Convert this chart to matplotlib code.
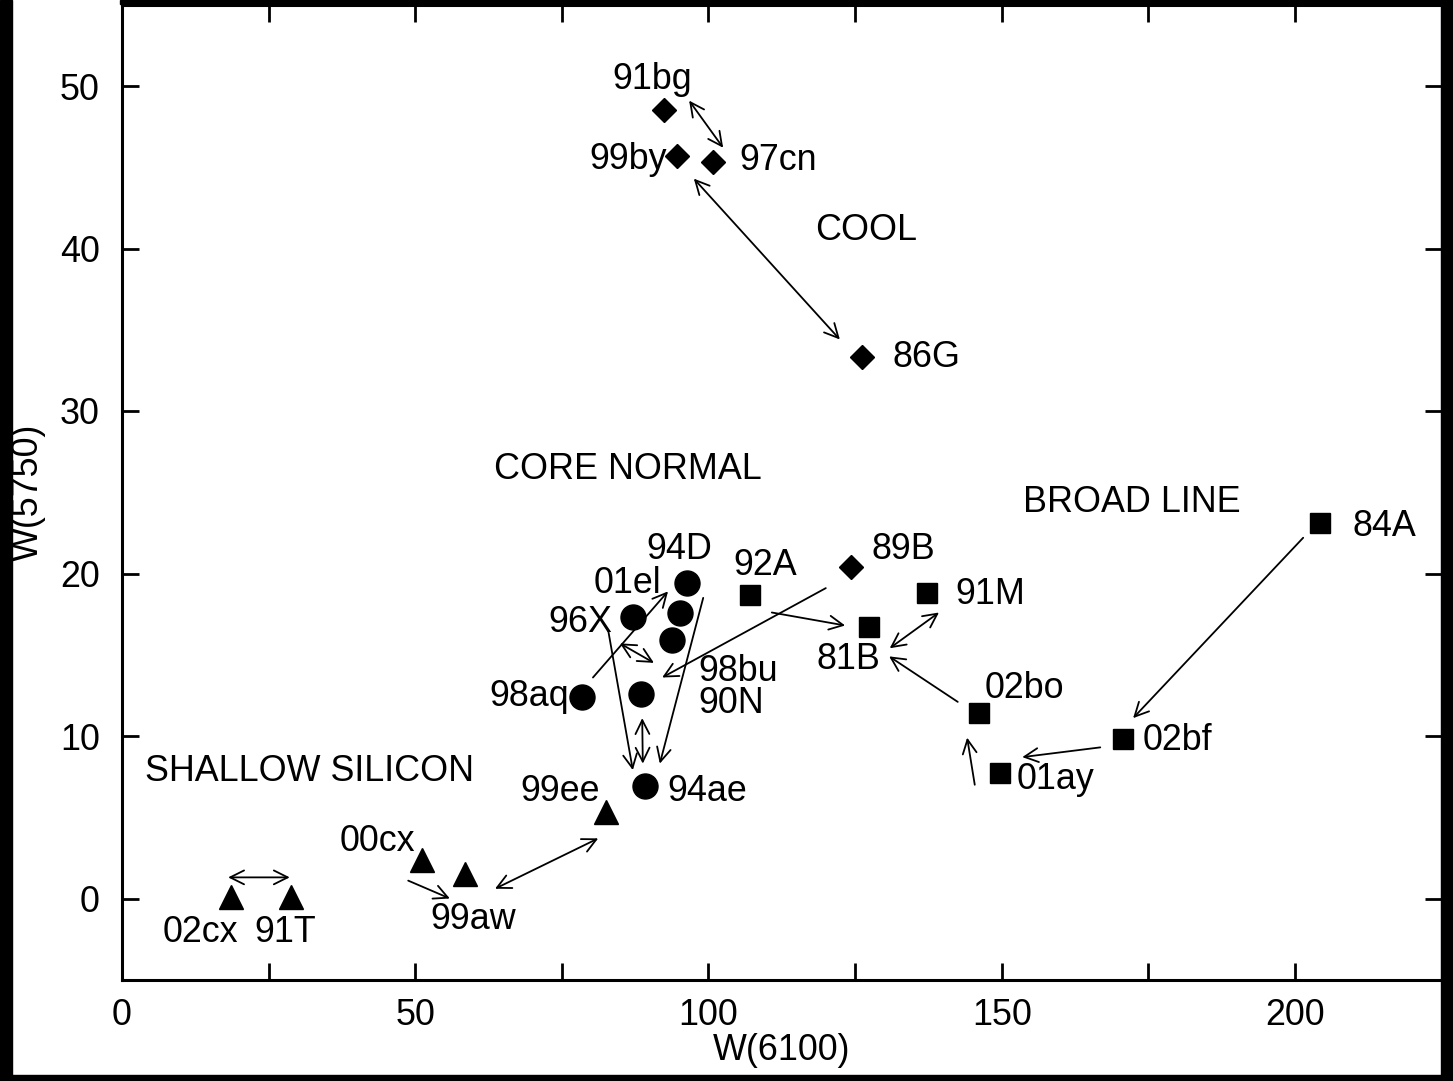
import matplotlib
matplotlib.use('Agg')
import matplotlib.pyplot as plt
from matplotlib.patches import Rectangle
from matplotlib.ticker import MultipleLocator

plt.rcParams['font.family'] = ['Liberation Sans', 'DejaVu Sans']

# W(6100), W(5750) per spectral subgroup
cool_x = [92.4, 94.6, 100.8, 126.2, 124.3]
cool_y = [48.5, 45.7, 45.3, 33.3, 20.4]

core_x = [96.3, 87.1, 95.1, 93.8, 78.4, 88.5, 89.2]
core_y = [19.4, 17.3, 17.6, 15.9, 12.4, 12.6, 6.9]

broad_x = [107.1, 137.3, 127.4, 146.1, 170.7, 149.7, 204.3]
broad_y = [18.7, 18.8, 16.7, 11.4, 9.8, 7.7, 23.1]

shallow_x = [18.6, 28.8, 51.2, 58.5, 82.5]
shallow_y = [0.1, 0.1, 2.4, 1.5, 5.3]

# SN names and where they sit
sn_names = ['91bg', '99by', '97cn', '86G', '89B', '94D', '01el', '96X', '98aq',
            '94ae', '92A', '91M', '81B', '02bo', '02bf', '01ay',
            '84A', '02cx', '91T', '00cx', '99aw', '99ee']
sn_x = [90.4, 86.3, 111.9, 137.2, 133.2, 95.0, 86.1, 78.1, 69.5,
        99.8, 109.6, 148.0, 123.9, 153.8, 180.0, 159.2,
        215.2, 13.4, 27.8, 43.6, 59.8, 74.7]
sn_y = [50.4, 45.5, 45.4, 33.3, 21.5, 21.5, 19.4, 17.0, 12.4,
        6.6, 20.5, 18.7, 14.7, 12.9, 9.7, 7.3,
        22.9, -2.1, -2.1, 3.5, -1.3, 6.6]

# the two stacked names next to the lower core-normal points
pair_names = ['98bu', '90N']
pair_x, pair_y = 98.3, 13.0

group_names = ['COOL', 'CORE NORMAL', 'BROAD LINE', 'SHALLOW SILICON']
group_x = [126.8, 86.2, 172.1, 31.9]
group_y = [41.1, 26.4, 24.4, 7.8]

# (x_tail, y_tail, x_head, y_head, two-headed)
links = [
    (96.7, 49.1, 102.5, 46.2, True),
    (97.5, 44.3, 122.4, 34.4, True),
    (80.3, 13.6, 93.1, 18.9, False),
    (82.9, 16.5, 87.1, 7.9, False),
    (84.9, 15.7, 90.7, 14.5, True),
    (99.1, 18.5, 91.7, 8.3, False),
    (88.7, 11.1, 88.8, 8.3, True),
    (120.0, 19.1, 92.1, 13.6, False),
    (110.8, 17.6, 123.3, 16.8, False),
    (130.9, 15.4, 139.3, 17.6, True),
    (142.5, 12.1, 130.8, 14.9, False),
    (145.4, 7.0, 144.1, 9.9, False),
    (166.8, 9.3, 153.5, 8.7, False),
    (201.4, 22.2, 172.4, 11.1, False),
    (18.1, 1.3, 28.6, 1.3, True),
    (48.8, 1.1, 55.9, 0.0, False),
    (63.6, 0.6, 81.2, 3.7, True),
]

FS = 25.8
W, H = 1453, 1081
fig = plt.figure(figsize=(W / 100, H / 100), dpi=100)
ax = fig.add_axes([122 / W, 1 - 979.75 / H, 1319.6 / W, 975 / H])

ax.plot(cool_x, cool_y, 'D', color='black', ms=12.5)
ax.plot(core_x, core_y, 'o', color='black', ms=18)
ax.plot(broad_x, broad_y, 's', color='black', ms=15)
ax.plot(shallow_x, shallow_y, '^', color='black', ms=17.5)

for name, x, y in zip(sn_names, sn_x, sn_y):
    ax.text(x, y, name, fontsize=FS, ha='center', va='center')
ax.text(pair_x, pair_y, '\n'.join(pair_names), fontsize=FS, ha='left',
        va='center', linespacing=0.88)
for name, x, y in zip(group_names, group_x, group_y):
    ax.text(x, y, name, fontsize=FS, ha='center', va='center')

for x0, y0, x1, y1, both in links:
    ax.annotate('', xy=(x1, y1), xytext=(x0, y0),
                arrowprops=dict(arrowstyle='<->' if both else '->', lw=1.3,
                                color='black', shrinkA=0, shrinkB=0,
                                mutation_scale=25))

ax.set_xlim(0, 225)
ax.set_ylim(-5, 55)
ax.xaxis.set_major_locator(MultipleLocator(50))
ax.xaxis.set_minor_locator(MultipleLocator(25))
ax.yaxis.set_major_locator(MultipleLocator(10))
ax.tick_params(which='both', direction='in', top=True, right=True,
               length=12, width=2, labelsize=FS)
ax.tick_params(axis='x', pad=13)
ax.tick_params(axis='y', pad=16)
for sp in ax.spines.values():
    sp.set_linewidth(2.2)

ax.set_xlabel('W(6100)', fontsize=FS)
ax.xaxis.set_label_coords(0.5, -0.073)
ax.xaxis.label.set_va('center')
ax.set_ylabel('W(5750)', fontsize=FS)
ax.yaxis.set_label_coords(-(122 - 28) / 1319.6, 0.5)
ax.yaxis.label.set_va('center')

# dark frame around the page
frame = [(0, 0, 12, H), (1441, 0, 12, H), (0, 1075, W, 6), (120, 0, W - 120, 4)]
for px, py, pw, ph in frame:
    fig.patches.append(Rectangle((px / W, 1 - (py + ph) / H), pw / W, ph / H,
                                 transform=fig.transFigure, color='black',
                                 zorder=10))

fig.savefig('out.png', dpi=100)
